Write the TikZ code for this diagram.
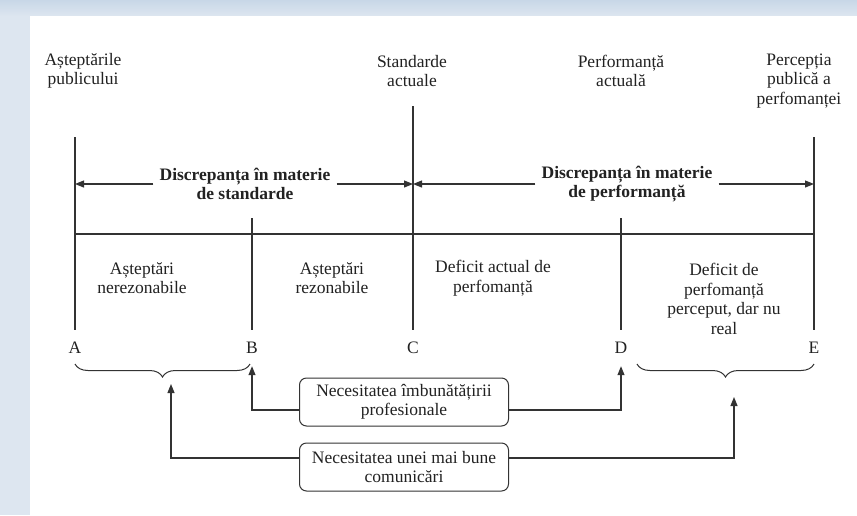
\documentclass[tikz,border=0pt]{standalone}
\usepackage{fontspec}
\setmainfont{Liberation Serif}
\usetikzlibrary{arrows.meta, positioning, calc, decorations.pathreplacing}
\definecolor{frameBlue}{HTML}{DDE6F0}
\definecolor{frameTop}{HTML}{C8D7E7}
\definecolor{lineGray}{HTML}{333333}
\definecolor{textGray}{HTML}{222222}
\tikzset{
  lbl/.style={font=\fontsize{17.5}{19.5}\selectfont, text=textGray, align=center, inner sep=2pt},
  gap/.style={lbl, font=\fontsize{17.5}{19.5}\selectfont\bfseries, inner sep=6pt},
  letter/.style={lbl, inner sep=0pt, minimum height=36pt},
  box/.style={lbl, draw=lineGray, line width=1pt, rounded corners=7pt,
              minimum width=209pt, minimum height=48pt},
  arrow/.style={-{Triangle[length=9pt,width=7pt]}, draw=lineGray, line width=1.1pt},
  rule/.style={draw=lineGray, line width=1.1pt},
  curly/.style={draw=lineGray, line width=1pt, decorate,
                decoration={brace, mirror, amplitude=13pt}},
}

\begin{document}
\begin{tikzpicture}[x=1pt, y=-1pt]
% frame
\fill[frameBlue] (0,0) rectangle (857,515);
\shade[top color=frameTop, bottom color=frameBlue] (0,0) rectangle (857,16);
\fill[white] (30,16) rectangle (857,515);
\useasboundingbox (0,0) rectangle (857,515);

% vertical axes A..E
\foreach \n/\x/\ytop in {A/75/137, B/252/218, C/413/106, D/621/218, E/814/137}{
  \coordinate (top\n) at (\x,\ytop);
  \node[letter] (lab\n) at (\x,348) {\n};
  \draw[rule] (top\n) -- (lab\n.north);
}
\coordinate (hL) at (75,234);
\coordinate (hR) at (814,234);
\draw[rule] (hL) -- (hR);

% headings
\node[lbl] (hdA) at (83,71) {Așteptările\\publicului};
\node[lbl] (hdC) at (412,71) {Standarde\\actuale};
\node[lbl] (hdD) at (621,71) {Performanță\\actuală};
\node[lbl] (hdE) at (799,81) {Percepția\\publică a\\perfomanței};

% discrepancies
\node[gap] (dStd) at (245,184) {Discrepanța în materie\\de standarde};
\node[gap] (dPerf) at (627,184) {Discrepanța în materie\\de performanță};
\draw[arrow] (dStd.west) -- (dStd.west -| topA);
\draw[arrow] (dStd.east) -- (dStd.east -| topC);
\draw[arrow] (dPerf.west) -- (dPerf.west -| topC);
\draw[arrow] (dPerf.east) -- (dPerf.east -| topE);

% zones
\node[lbl] (zAB) at (142,278) {Așteptări\\nerezonabile};
\node[lbl] (zBC) at (332,278) {Așteptări\\rezonabile};
\node[lbl] (zCD) at (493,278) {Deficit actual de\\perfomanță};
\node[lbl] (zDE) at (724,299) {Deficit de\\perfomanță\\perceput, dar nu\\real};

% braces
\coordinate (brA) at (75,364);
\coordinate (brB) at (250,364);
\coordinate (brD) at (637,364);
\coordinate (brE) at (814,364);
\draw[curly] (brA) -- (brB);
\draw[curly] (brD) -- (brE);

% needs
\node[box] (needProf) at (404,402) {Necesitatea îmbunătățirii\\profesionale};
\node[box] (needComm) at (404,467) {Necesitatea unei mai bune\\comunicări};
\coordinate (tipL) at (171,384);
\coordinate (tipR) at (734,397);
\draw[arrow] ([yshift=-8pt]needProf.west) -| (labB.south);
\draw[arrow] ([yshift=-8pt]needProf.east) -| (labD.south);
\draw[arrow] ([yshift=9pt]needComm.west) -| (tipL);
\draw[arrow] ([yshift=9pt]needComm.east) -| (tipR);
\end{tikzpicture}
\end{document}
